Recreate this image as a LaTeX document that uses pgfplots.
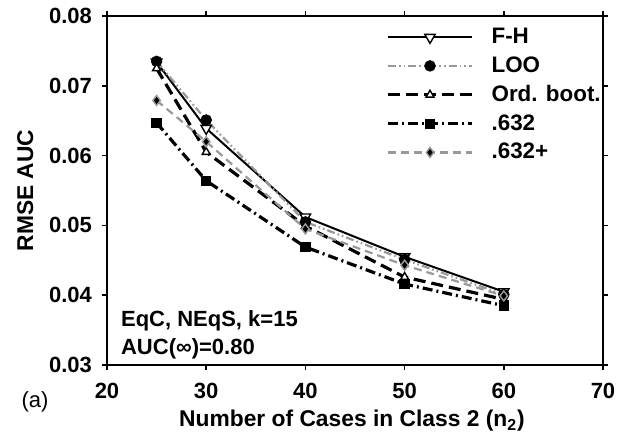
\documentclass[border=0pt]{standalone}
\usepackage{pgfplots}
\pgfplotsset{compat=1.18}
\usepackage{fontspec}
\setmainfont{Liberation Sans}
\definecolor{lgray}{gray}{0.6}
\begin{document}
\begin{tikzpicture}
\begin{axis}[
  scale only axis,
  width=248pt, height=174.5pt,
  xmin=20, xmax=70, ymin=0.03, ymax=0.08,
  xtick={20,30,40,50,60,70},
  ytick={0.03,0.04,0.05,0.06,0.07,0.08},
  tick align=outside,
  major tick length=2.5pt,
  tick style={black, line width=0.8pt},
  axis line style={line width=0.9pt},
  /pgf/number format/assume math mode=true,
  yticklabel style={/pgf/number format/fixed, /pgf/number format/precision=2, /pgf/number format/fixed zerofill},
  scaled y ticks=false,
  ticklabel style={font=\fontsize{11}{13}\selectfont\bfseries},
  xticklabel style={yshift=-3pt},
  yticklabel style={xshift=-1.5pt},
  xlabel={Number of Cases in Class 2 (n\textsubscript{2})},
  ylabel={RMSE AUC},
  label style={font=\fontsize{11.4}{13}\selectfont\bfseries},
  xlabel style={at={(axis description cs:0.494,-0.160)}, anchor=center},
  ylabel style={at={(axis description cs:-0.165,0.5)}, anchor=center},
  legend style={draw=none, fill=none, at={(axis description cs:0.5625,0.972)}, anchor=north west,
    font=\fontsize{11.2}{13}\selectfont\bfseries, inner sep=0pt, row sep=3pt,
    nodes={inner sep=1pt},
    /tikz/every odd column/.append style={column sep=8pt}},
  legend cell align=left,
  legend image code/.code={\draw[mark repeat=2,mark phase=2,#1] plot coordinates {(0pt,0pt) (21pt,0pt) (42pt,0pt)};},
]
\addplot[black, line width=1pt, mark=triangle*, mark options={solid, rotate=180, fill=white, draw=black, line width=0.7pt}, mark size=3pt]
 coordinates {(25,0.0734) (30,0.0639) (40,0.0512) (50,0.0455) (60,0.0405)};
\addlegendentry{F-H}
\addplot[lgray, line width=1.1pt, dash pattern=on 4pt off 1.5pt on 0.8pt off 1.5pt on 0.8pt off 1.5pt, mark=*, mark options={solid, fill=black, draw=black}, mark size=2.3pt]
 coordinates {(25,0.0735) (30,0.0651) (40,0.0505) (50,0.0451) (60,0.0401)};
\addlegendentry{LOO}
\addplot[black, line width=1.6pt, dash pattern=on 6pt off 3pt, mark=triangle*, mark options={solid, fill=white, draw=black, line width=0.7pt}, mark size=2.3pt]
 coordinates {(25,0.0725) (30,0.0605) (40,0.0499) (50,0.0426) (60,0.0394)};
\addlegendentry{Ord. boot.}
\addplot[black, line width=1.6pt, dash pattern=on 5pt off 2pt on 1pt off 2pt, mark=square*, mark options={solid, fill=black, draw=black}, mark size=1.8pt]
 coordinates {(25,0.0647) (30,0.0564) (40,0.0469) (50,0.0416) (60,0.0385)};
\addlegendentry{.632}
\addplot[lgray, line width=1.1pt, dash pattern=on 4pt off 2.5pt, mark=diamond*, mark options={solid, fill=black, draw=lgray, line width=0.7pt}, mark size=2.5pt]
 coordinates {(25,0.0679) (30,0.0620) (40,0.0495) (50,0.0443) (60,0.0399)};
\addlegendentry{.632+}
\end{axis}
\node[anchor=base west, font=\fontsize{11}{13}\selectfont\bfseries, inner sep=0pt] at (6.85pt,19.15pt) {EqC, NEqS, k=15};
\node[anchor=base west, font=\fontsize{11}{13}\selectfont\bfseries, inner sep=0pt] at (6.85pt,5.5pt) {AUC(∞)=0.80};
\node[anchor=center, font=\fontsize{11}{13}\selectfont, inner sep=0pt] at (-36pt,-18.5pt) {(a)};
\pgfresetboundingbox
\useasboundingbox (-53.5pt,-41pt) rectangle (258.5pt,182.5pt);
\end{tikzpicture}
\end{document}
